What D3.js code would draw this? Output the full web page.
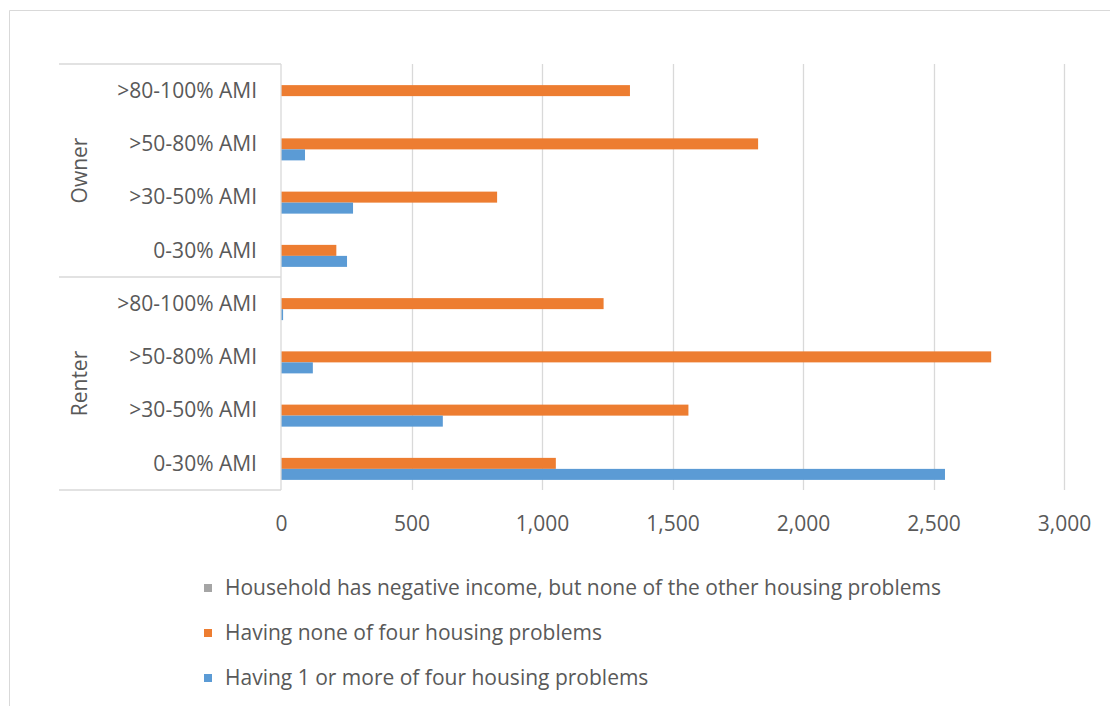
<!DOCTYPE html>
<html>
<head>
<meta charset="utf-8">
<script src="https://cdn.jsdelivr.net/npm/d3@7"></script>
<style>
  html, body { margin: 0; padding: 0; background: #fff; }
  svg { display: block; }
  text { font-family: "Open Sans", sans-serif; fill: #595959; }
</style>
</head>
<body>
<svg id="chart" width="1110" height="706"></svg>
<script>
// ---- data ----
const groups = ["Owner", "Renter"];
const levels = [">80-100% AMI", ">50-80% AMI", ">30-50% AMI", "0-30% AMI"];
const seriesNames = [
  "Household has negative income, but none of the other housing problems",
  "Having none of four housing problems",
  "Having 1 or more of four housing problems"
];
const seriesColors = ["#A5A5A5", "#ED7D31", "#5B9BD5"];
// values in order: Owner (>80-100, >50-80, >30-50, 0-30), Renter (same)
const negativeIncome = [0, 0, 0, 0, 0, 0, 0, 0];
const noProblems     = [1337, 1828, 828, 212, 1236, 2721, 1561, 1053];
const withProblems   = [0, 92, 276, 253, 8, 122, 620, 2544];
const xTicks = [0, 500, 1000, 1500, 2000, 2500, 3000];

const seriesValues = [negativeIncome, noProblems, withProblems];
const cats = [];
groups.forEach(g => levels.forEach(l => cats.push(g + "|" + l)));

const svg = d3.select("#chart");
const FS = "21px";

// outer chart frame (top & left edges visible)
svg.append("line").attr("x1", 9.5).attr("x2", 1110).attr("y1", 10.5).attr("y2", 10.5)
  .attr("stroke", "#d9d9d9").attr("stroke-width", 1);
svg.append("line").attr("x1", 9.5).attr("x2", 9.5).attr("y1", 10.5).attr("y2", 706)
  .attr("stroke", "#d9d9d9").attr("stroke-width", 1);

const x = d3.scaleLinear().domain([0, 3000]).range([281, 1064]);
const y = d3.scaleBand().domain(cats).range([64, 490]).paddingInner(0.38).paddingOuter(0.19);
const ySub = d3.scaleBand().domain(d3.range(3)).range([0, y.bandwidth()]);

// gridlines
svg.append("g").selectAll("line").data(xTicks.slice(1)).join("line")
  .attr("x1", d => Math.round(x(d)) + 0.5).attr("x2", d => Math.round(x(d)) + 0.5)
  .attr("y1", 64).attr("y2", 490)
  .attr("stroke", "#d9d9d9").attr("stroke-width", 1.3);

// bars
seriesValues.forEach((vals, si) => {
  svg.append("g").selectAll("rect").data(vals.map((v, i) => ({v, c: cats[i]}))).join("rect")
    .attr("x", x(0))
    .attr("y", d => y(d.c) + ySub(si))
    .attr("width", d => x(d.v) - x(0))
    .attr("height", ySub.bandwidth())
    .attr("fill", seriesColors[si]);
});

// category axis lines
const axisColor = "#d9d9d9";
const lineG = svg.append("g").attr("stroke", axisColor).attr("stroke-width", 1.3);
lineG.append("line").attr("x1", x(0)).attr("x2", x(0)).attr("y1", 64).attr("y2", 490);
const groupBounds = [64, 277, 490];
groupBounds.forEach(yy => {
  lineG.append("line").attr("x1", 59).attr("x2", x(0)).attr("y1", yy).attr("y2", yy);
});

// category labels
svg.append("g").selectAll("text").data(cats).join("text")
  .attr("x", 257)
  .attr("y", d => y(d) + y.bandwidth() / 2)
  .attr("dy", "0.35em")
  .attr("text-anchor", "end")
  .style("font-size", FS)
  .text(d => d.split("|")[1]);

// group labels
groups.forEach((g, gi) => {
  const cy = (groupBounds[gi] + groupBounds[gi + 1]) / 2;
  svg.append("text")
    .attr("transform", `translate(80,${cy}) rotate(-90)`)
    .attr("dy", "0.35em")
    .attr("text-anchor", "middle")
    .style("font-size", FS)
    .text(g);
});

// x axis
const xAxis = d3.axisBottom(x).tickValues(xTicks).tickFormat(d3.format(",")).tickSize(0).tickPadding(0);
const ax = svg.append("g").attr("transform", "translate(0,516)").call(xAxis);
ax.select(".domain").remove();
ax.selectAll("text").style("font-size", FS).style("font-family", "'Open Sans', sans-serif").attr("fill", "#595959");

// legend
const legendY = [588, 633, 678];
const lg = svg.append("g");
seriesNames.forEach((name, i) => {
  lg.append("rect").attr("x", 204).attr("y", legendY[i] - 4).attr("width", 8).attr("height", 8)
    .attr("fill", seriesColors[i]);
  lg.append("text").attr("x", 225).attr("y", legendY[i]).attr("dy", "0.35em")
    .style("font-size", FS).text(name);
});
</script>
</body>
</html>
